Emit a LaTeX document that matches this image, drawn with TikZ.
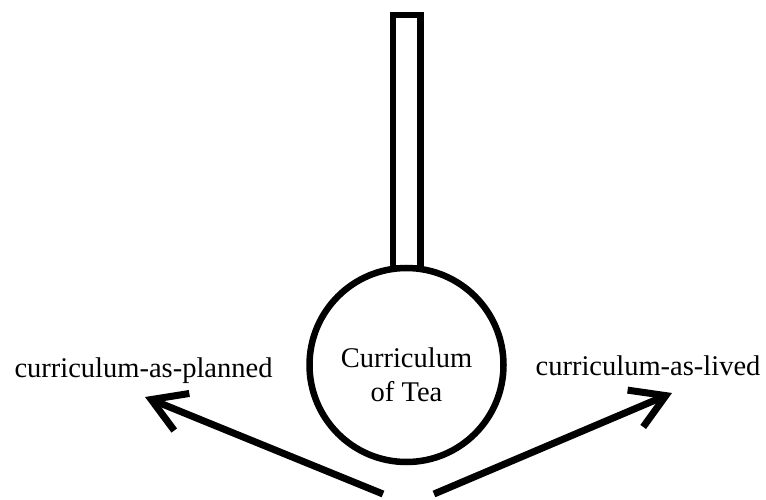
\documentclass[tikz,border=0pt]{standalone}
\usepackage{fontspec}
\setmainfont{Liberation Serif}
\usetikzlibrary{arrows.meta, positioning}

\begin{document}
\begin{tikzpicture}[
  x=1pt, y=-1pt,
  bowl/.style={circle, draw, line width=6.5pt, minimum size=194pt, inner sep=0pt, outer sep=0pt},
  handle/.style={rectangle, draw, line width=6.5pt, minimum width=27.5pt,
                 minimum height=253pt, inner sep=0pt, outer sep=0pt},
  bowltext/.style={align=center, font=\fontsize{28.5}{34}\selectfont},
  side/.style={font=\fontsize{28.5}{34}\selectfont, anchor=base, inner sep=0pt},
  arrow/.style={-{Straight Barb[length=33pt, width=40pt]}, line width=7pt}
]
  \useasboundingbox (0,0) rectangle (766,500);
  \node[bowl] (bowl) at (406.5,365) {};
  \node[handle, above=0pt of bowl] (handle) {};
  \node[bowltext, yshift=-10pt] (tea) at (bowl.center) {Curriculum\\of Tea};
  \node[side] (planned) at (143.5,377) {curriculum-as-planned};
  \node[side] (lived) at (648,375) {curriculum-as-lived};
  \coordinate (base-l) at (383,494);
  \coordinate (base-r) at (434,494);
  \coordinate (tip-l) at (145,397);
  \coordinate (tip-r) at (672,393);
  \draw[arrow] (base-l) -- (tip-l);
  \draw[arrow] (base-r) -- (tip-r);
\end{tikzpicture}
\end{document}
